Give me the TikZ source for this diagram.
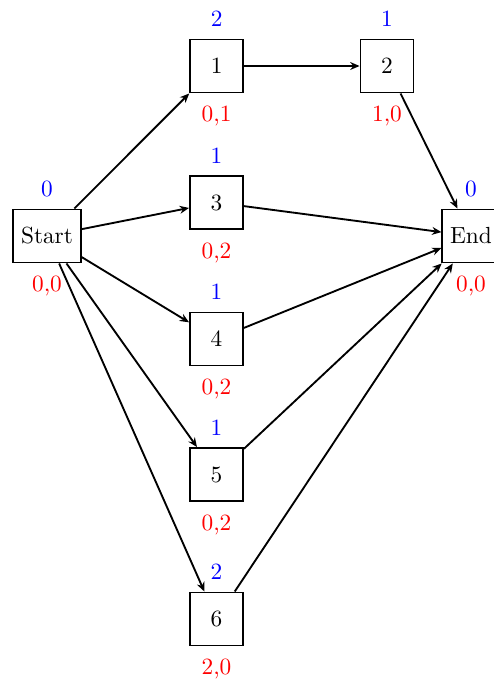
\documentclass[tikz,border=0pt]{standalone}
\usetikzlibrary{arrows.meta}
\begin{document}
\begin{tikzpicture}[x=0.429pt,y=-0.429pt,
  box/.style={draw,thick,minimum size=0.8cm,inner sep=0.333em},
  conn/.style={thick,-{Stealth[length=4pt,width=3.4pt,inset=1.3pt]}},
  up/.style={label={[text=blue,label distance=1.6pt]above:#1}},
  down/.style={label={[text=red,label distance=2pt]below:#1}}]
\useasboundingbox (0,0) rectangle (494,682);
\clip (0,0) rectangle (494,682);
\node[box,up=0,down={0,0}] (s) at (47,236) {Start};
\node[box,up=2,down={0,1}] (n1) at (216.6,66) {1};
\node[box,up=1,down={1,0}] (n2) at (387,66) {2};
\node[box,up=1,down={0,2}] (n3) at (216.5,202.5) {3};
\node[box,up=1,down={0,2}] (n4) at (216.5,339) {4};
\node[box,up=1,down={0,2}] (n5) at (216.5,474.5) {5};
\node[box,up=2,down={2,0}] (n6) at (216.5,619) {6};
\node[box,up=0,down={0,0}] (e) at (471,236) {End};
\draw[conn] (s) -- (n1);
\draw[conn] (s) -- (n3);
\draw[conn] (s) -- (n4);
\draw[conn] (s) -- (n5);
\draw[conn] (s) -- (n6);
\draw[conn] (n1) -- (n2);
\draw[conn] (n2) -- (e);
\draw[conn] (n3) -- (e);
\draw[conn] (n4) -- (e);
\draw[conn] (n5) -- (e);
\draw[conn] (n6) -- (e);
\end{tikzpicture}
\end{document}
